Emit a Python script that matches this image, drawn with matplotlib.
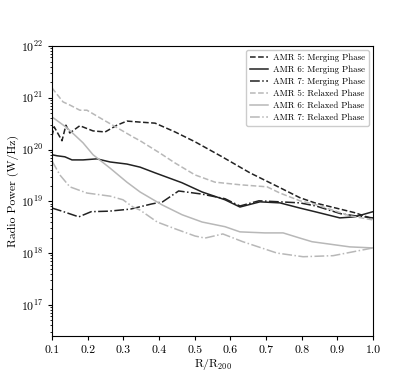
import numpy as np
import matplotlib
matplotlib.use("Agg")
import matplotlib.pyplot as plt

plt.rcParams['font.family'] = ['cmr10', 'DejaVu Serif']
plt.rcParams['mathtext.fontset'] = 'cm'
plt.rcParams['axes.formatter.use_mathtext'] = True

# Data (x = R/R200, values = log10 radio power [W/Hz])
amr5_merge_x = [0.100, 0.106, 0.128, 0.139, 0.150, 0.178, 0.215, 0.249, 0.282, 0.310, 0.347, 0.389, 0.445, 0.501, 0.577, 0.655, 0.740, 0.795, 0.837, 0.949, 1.0]
amr5_merge_y = [20.26, 20.44, 20.17, 20.47, 20.32, 20.46, 20.36, 20.34, 20.47, 20.55, 20.53, 20.51, 20.34, 20.15, 19.86, 19.55, 19.26, 19.07, 18.97, 18.78, 18.66]

amr6_merge_x = [0.100, 0.114, 0.136, 0.156, 0.187, 0.226, 0.263, 0.310, 0.347, 0.389, 0.464, 0.521, 0.585, 0.627, 0.683, 0.739, 0.795, 0.837, 0.907, 0.949, 1.0]
amr6_merge_y = [19.90, 19.88, 19.86, 19.80, 19.80, 19.82, 19.76, 19.72, 19.66, 19.55, 19.36, 19.18, 19.03, 18.89, 18.99, 18.97, 18.87, 18.80, 18.68, 18.70, 18.80]

amr7_merge_x = [0.100, 0.128, 0.175, 0.210, 0.260, 0.320, 0.380, 0.410, 0.455, 0.520, 0.585, 0.627, 0.680, 0.740, 0.795, 0.840, 0.910, 0.950, 1.0]
amr7_merge_y = [18.87, 18.81, 18.70, 18.80, 18.81, 18.85, 18.95, 18.99, 19.20, 19.14, 19.05, 18.91, 19.01, 18.99, 18.97, 18.91, 18.76, 18.72, 18.68]

amr5_relax_x = [0.100, 0.131, 0.150, 0.178, 0.198, 0.235, 0.283, 0.328, 0.347, 0.403, 0.445, 0.501, 0.557, 0.627, 0.703, 0.739, 0.795, 0.843, 0.935, 1.0]
amr5_relax_y = [21.19, 20.92, 20.86, 20.76, 20.76, 20.61, 20.42, 20.24, 20.17, 19.93, 19.74, 19.51, 19.37, 19.32, 19.28, 19.16, 19.01, 18.93, 18.72, 18.64]

amr6_relax_x = [0.100, 0.142, 0.187, 0.215, 0.263, 0.310, 0.347, 0.409, 0.465, 0.521, 0.585, 0.627, 0.697, 0.748, 0.795, 0.829, 0.935, 1.0]
amr6_relax_y = [20.63, 20.42, 20.13, 19.90, 19.64, 19.37, 19.18, 18.93, 18.74, 18.60, 18.51, 18.41, 18.39, 18.39, 18.29, 18.22, 18.12, 18.10]

amr7_relax_x = [0.100, 0.122, 0.150, 0.198, 0.263, 0.299, 0.327, 0.347, 0.395, 0.445, 0.501, 0.529, 0.579, 0.635, 0.731, 0.804, 0.888, 1.0]
amr7_relax_y = [19.78, 19.51, 19.28, 19.16, 19.10, 19.03, 18.89, 18.83, 18.60, 18.47, 18.33, 18.29, 18.37, 18.22, 18.00, 17.93, 17.95, 18.10]

labels = ["AMR 5: Merging Phase", "AMR 6: Merging Phase", "AMR 7: Merging Phase",
          "AMR 5: Relaxed Phase", "AMR 6: Relaxed Phase", "AMR 7: Relaxed Phase"]

fig = plt.figure(figsize=(4.15, 3.78), dpi=100)
ax = fig.add_axes([0.1253, 0.111, 0.7735, 0.7673])

dark = '#222222'
light = '#b8b8b8'
series = [
    (amr5_merge_x, amr5_merge_y, dark, '--'),
    (amr6_merge_x, amr6_merge_y, dark, '-'),
    (amr7_merge_x, amr7_merge_y, dark, '-.'),
    (amr5_relax_x, amr5_relax_y, light, '--'),
    (amr6_relax_x, amr6_relax_y, light, '-'),
    (amr7_relax_x, amr7_relax_y, light, '-.'),
]
for (xs, ys, c, ls), lab in zip(series, labels):
    ax.plot(xs, 10 ** np.array(ys), color=c, ls=ls, lw=1.1, label=lab)

ax.set_yscale('log')
ax.set_xlim(0.1, 1.0)
ax.set_ylim(2.5e16, 1e22)
ax.set_xticks([0.1, 0.2, 0.3, 0.4, 0.5, 0.6, 0.7, 0.8, 0.9, 1.0])
ax.set_xticklabels(['0.1', '0.2', '0.3', '0.4', '0.5', '0.6', '0.7', '0.8', '0.9', '1.0'])
ax.tick_params(labelsize=8.5, length=3)
ax.tick_params(which='minor', length=1.5)
ax.set_xlabel(r'R/R$_{200}$', fontsize=8.5, labelpad=2)
ax.set_ylabel('Radio Power (W/Hz)', fontsize=8.5, labelpad=1)
ax.legend(loc='upper right', fontsize=6.4, handlelength=2.0, labelspacing=0.4,
          borderpad=0.4, handletextpad=0.6, framealpha=1, edgecolor='#cccccc')

fig.savefig('out.png', dpi=100)
